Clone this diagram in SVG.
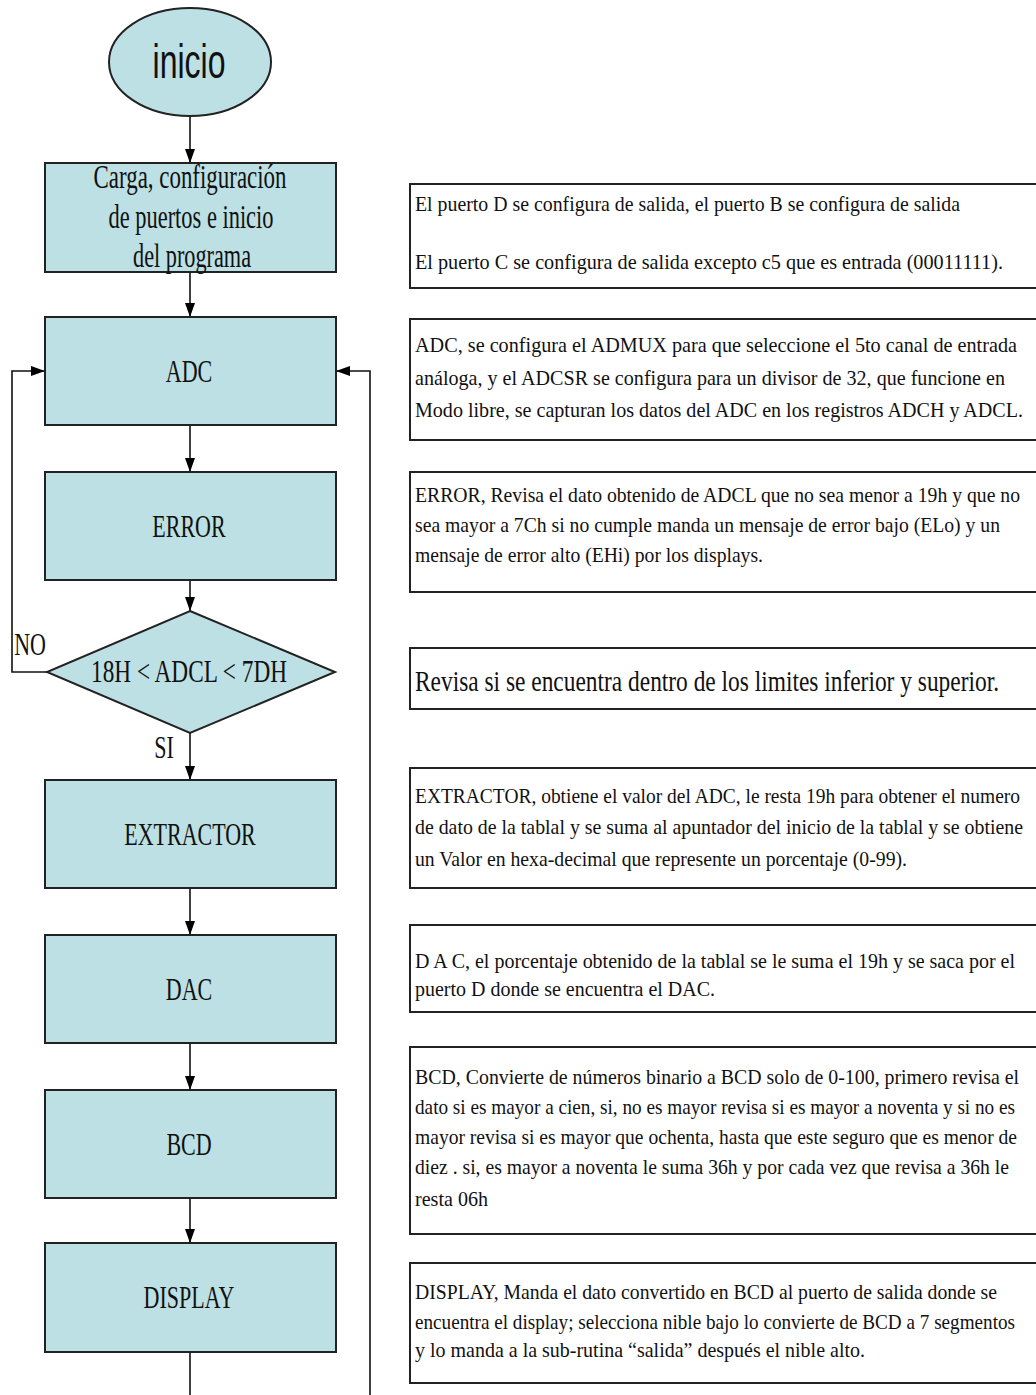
<svg xmlns="http://www.w3.org/2000/svg" width="1036" height="1395" viewBox="0 0 1036 1395">
<defs>
<marker id="ah" viewBox="0 0 14 10" refX="14" refY="5" markerWidth="14" markerHeight="10" markerUnits="userSpaceOnUse" orient="auto">
<path d="M0,0 L14,5 L0,10 z" fill="#000"/>
</marker>
<style>
.node{fill:#bce0e3;stroke:#222;stroke-width:2}
.box{fill:#fff;stroke:#222;stroke-width:2}
.lbl{font-family:"Liberation Serif",serif;font-size:22px;fill:#111;text-anchor:middle}
.desc{font-family:"Liberation Serif",serif;font-size:20px;fill:#111}
.big{font-family:"Liberation Serif",serif;font-size:20px;fill:#111}
.conn{fill:none;stroke:#111;stroke-width:1.6}
</style>
</defs>
<rect width="1036" height="1395" fill="#fff"/>

<g id="connectors">
<path class="conn" d="M190,117 V163" marker-end="url(#ah)"/>
<path class="conn" d="M190,272 V317" marker-end="url(#ah)"/>
<path class="conn" d="M190,425 V472" marker-end="url(#ah)"/>
<path class="conn" d="M190,580 V611" marker-end="url(#ah)"/>
<path class="conn" d="M47,672 H12 V371 H45" marker-end="url(#ah)"/>
<path class="conn" d="M190,733 V780" marker-end="url(#ah)"/>
<path class="conn" d="M190,888 V935" marker-end="url(#ah)"/>
<path class="conn" d="M190,1043 V1090" marker-end="url(#ah)"/>
<path class="conn" d="M190,1198 V1243" marker-end="url(#ah)"/>
<path class="conn" d="M190,1352 V1395"/>
<path class="conn" d="M370,1395 V371 H336" marker-end="url(#ah)"/>
<text class="lbl" transform="translate(30,655) scale(1,1.4)" font-size="19">NO</text>
<text class="lbl" transform="translate(164,758) scale(1,1.4)" font-size="19">SI</text>
</g>

<g id="n-inicio">
<ellipse class="node" cx="190" cy="62" rx="81" ry="54"/>
<text transform="translate(189,78) scale(1,1.5)" font-family="Liberation Sans, Arial, sans-serif" font-size="32" text-anchor="middle" fill="#111" textLength="73" lengthAdjust="spacingAndGlyphs">inicio</text>
</g>

<g id="n-carga">
<rect class="node" x="45" y="163" width="291" height="109"/>
<text class="lbl" font-size="20" transform="translate(190,188) scale(1,1.5)" textLength="193" lengthAdjust="spacingAndGlyphs">Carga, configuración</text>
<text class="lbl" font-size="20" transform="translate(191,228) scale(1,1.5)" textLength="165" lengthAdjust="spacingAndGlyphs">de puertos e inicio</text>
<text class="lbl" font-size="20" transform="translate(192,267) scale(1,1.5)" textLength="118" lengthAdjust="spacingAndGlyphs">del programa</text>
</g>

<g id="n-adc">
<rect class="node" x="45" y="317" width="291" height="108"/>
<text class="lbl" transform="translate(189,382) scale(1,1.42)">ADC</text>
</g>

<g id="n-error">
<rect class="node" x="45" y="472" width="291" height="108"/>
<text class="lbl" transform="translate(189,537) scale(1,1.42)">ERROR</text>
</g>

<g id="n-decision">
<polygon class="node" points="190,611 335,672 190,733 47,672"/>
<text class="lbl" transform="translate(189,682) scale(1,1.42)" textLength="196" lengthAdjust="spacingAndGlyphs">18H &lt; ADCL &lt; 7DH</text>
</g>

<g id="n-extractor">
<rect class="node" x="45" y="780" width="291" height="108"/>
<text class="lbl" transform="translate(190,845) scale(1,1.42)">EXTRACTOR</text>
</g>

<g id="n-dac">
<rect class="node" x="45" y="935" width="291" height="108"/>
<text class="lbl" transform="translate(189,1000) scale(1,1.42)">DAC</text>
</g>

<g id="n-bcd">
<rect class="node" x="45" y="1090" width="291" height="108"/>
<text class="lbl" transform="translate(189,1155) scale(1,1.42)">BCD</text>
</g>

<g id="n-display">
<rect class="node" x="45" y="1243" width="291" height="109"/>
<text class="lbl" transform="translate(189,1308) scale(1,1.42)">DISPLAY</text>
</g>

<g id="d-carga">
<rect class="box" x="410" y="184" width="640" height="104"/>
<text class="desc" transform="translate(415,211) scale(1,1.1)" textLength="545" lengthAdjust="spacingAndGlyphs">El puerto D se configura de salida, el puerto B se configura  de salida</text>
<text class="desc" transform="translate(415,269) scale(1,1.1)" textLength="588" lengthAdjust="spacingAndGlyphs">El puerto C se configura de salida excepto c5 que es entrada (00011111).</text>
</g>

<g id="d-adc">
<rect class="box" x="410" y="319" width="640" height="121"/>
<text class="desc" transform="translate(415,352) scale(1,1.1)" textLength="602" lengthAdjust="spacingAndGlyphs">ADC, se configura el ADMUX para que seleccione el 5to canal de entrada</text>
<text class="desc" transform="translate(415,385) scale(1,1.1)" textLength="590" lengthAdjust="spacingAndGlyphs">análoga, y el ADCSR se configura para un divisor de 32, que funcione en</text>
<text class="desc" transform="translate(415,417) scale(1,1.1)" textLength="608" lengthAdjust="spacingAndGlyphs">Modo libre, se capturan los datos del ADC en los registros ADCH y ADCL.</text>
</g>

<g id="d-error">
<rect class="box" x="410" y="472" width="640" height="120"/>
<text class="desc" transform="translate(415,502) scale(1,1.1)" textLength="605" lengthAdjust="spacingAndGlyphs">ERROR, Revisa  el dato obtenido de ADCL que no sea menor a 19h y que no</text>
<text class="desc" transform="translate(415,532) scale(1,1.1)" textLength="585" lengthAdjust="spacingAndGlyphs">sea mayor a 7Ch  si no cumple manda un mensaje de error bajo (ELo) y un</text>
<text class="desc" transform="translate(415,562) scale(1,1.1)" textLength="348" lengthAdjust="spacingAndGlyphs">mensaje de error alto (EHi) por los displays.</text>
</g>

<g id="d-decision">
<rect class="box" x="410" y="648" width="640" height="61"/>
<text class="big" transform="translate(415,691) scale(1,1.45)" textLength="584" lengthAdjust="spacingAndGlyphs">Revisa si se encuentra dentro de los limites inferior y superior.</text>
</g>

<g id="d-extractor">
<rect class="box" x="410" y="768" width="640" height="120"/>
<text class="desc" transform="translate(415,803) scale(1,1.1)" textLength="605" lengthAdjust="spacingAndGlyphs">EXTRACTOR, obtiene el valor del ADC, le resta 19h para obtener el numero</text>
<text class="desc" transform="translate(415,834) scale(1,1.1)" textLength="608" lengthAdjust="spacingAndGlyphs">de dato de la tablal  y se suma al apuntador  del inicio de la  tablal y  se obtiene</text>
<text class="desc" transform="translate(415,866) scale(1,1.1)" textLength="492" lengthAdjust="spacingAndGlyphs">un Valor en hexa-decimal que represente un porcentaje (0-99).</text>
</g>

<g id="d-dac">
<rect class="box" x="410" y="925" width="640" height="87"/>
<text class="desc" transform="translate(415,968) scale(1,1.1)" textLength="600" lengthAdjust="spacingAndGlyphs">D A C, el porcentaje obtenido de la tablal  se le suma el 19h  y  se saca por el</text>
<text class="desc" transform="translate(415,996) scale(1,1.1)" textLength="300" lengthAdjust="spacingAndGlyphs">puerto D donde se encuentra  el DAC.</text>
</g>

<g id="d-bcd">
<rect class="box" x="410" y="1047" width="640" height="187"/>
<text class="desc" transform="translate(415,1084) scale(1,1.1)" textLength="604" lengthAdjust="spacingAndGlyphs">BCD, Convierte de números binario a BCD solo de 0-100, primero revisa el</text>
<text class="desc" transform="translate(415,1114) scale(1,1.1)" textLength="600" lengthAdjust="spacingAndGlyphs">dato si es mayor a cien, si, no es mayor revisa si es mayor a noventa y si no es</text>
<text class="desc" transform="translate(415,1144) scale(1,1.1)" textLength="602" lengthAdjust="spacingAndGlyphs">mayor revisa si es mayor que ochenta, hasta que este seguro que es menor de</text>
<text class="desc" transform="translate(415,1174) scale(1,1.1)" textLength="594" lengthAdjust="spacingAndGlyphs">diez . si, es mayor a noventa le suma 36h  y por cada vez que revisa a 36h le</text>
<text class="desc" transform="translate(415,1206) scale(1,1.1)" textLength="73" lengthAdjust="spacingAndGlyphs">resta 06h</text>
</g>

<g id="d-display">
<rect class="box" x="410" y="1263" width="640" height="120"/>
<text class="desc" transform="translate(415,1299) scale(1,1.1)" textLength="582" lengthAdjust="spacingAndGlyphs">DISPLAY,  Manda el dato convertido en BCD al puerto de salida donde se</text>
<text class="desc" transform="translate(415,1329) scale(1,1.1)" textLength="600" lengthAdjust="spacingAndGlyphs">encuentra el display; selecciona nible bajo lo convierte de BCD a 7 segmentos</text>
<text class="desc" transform="translate(415,1357) scale(1,1.1)" textLength="450" lengthAdjust="spacingAndGlyphs">y lo manda a la sub-rutina “salida”  después el nible alto.</text>
</g>
</svg>
